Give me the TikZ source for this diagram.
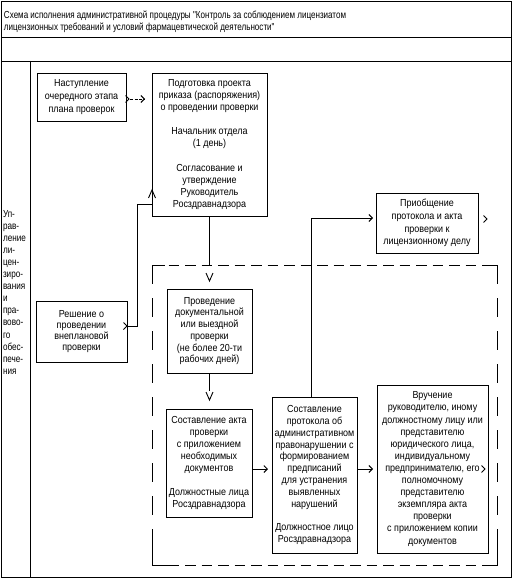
\documentclass[tikz,border=0pt]{standalone}
\usepackage{fontspec}
\setmainfont{Liberation Sans}[FakeStretch=0.88]
\newfontfamily\ttlfont{Liberation Sans}[FakeStretch=0.79]
\newfontfamily\lanefont{Liberation Sans}[FakeStretch=0.8]
\usetikzlibrary{arrows.meta,calc}
\begin{document}
\begin{tikzpicture}[x=1pt,y=-1pt,line width=0.9pt,
  fs/.style={font=\fontsize{10.2}{#1}\selectfont},
  every node/.style={inner sep=0pt, outer sep=0pt},
  lbox/.style={draw, align=center, anchor=north west, fs=#1},
  lbl/.style={align=left, anchor=north west},
  hd/.style={dash pattern=on 10.5pt off 6pt},
  vd/.style={dash pattern=on 19pt off 14pt},
  dd/.style={dash pattern=on 3pt off 1.5pt},
  arr/.style={-{Straight Barb[length=3.5pt,width=7pt]}},
  rch/.pic={\draw (-3.5,-3.5) -- (0,0) -- (-3.5,3.5);},
  dch/.pic={\draw (-3.5,-8) -- (0,0) -- (3.5,-8);},
  uch/.pic={\draw (-3.5,8) -- (0,0) -- (3.5,8);},
]
\useasboundingbox (0,0) rectangle (514,580);
% frame
\draw (1,1) rectangle (511,577);
\draw (1,37) -- (511,37);
\draw (1,61) -- (511,61);
\draw (30,61) -- (30,577);

\node[lbl, font=\ttlfont\fontsize{10.2}{12}\selectfont] (title) at (4,11) {Схема исполнения административной процедуры "Контроль за соблюдением лицензиатом\\лицензионных требований и условий фармацевтической деятельности"};
\node[lbl, font=\lanefont\fontsize{10.2}{12.1}\selectfont] (lane) at (3,210) {Уп-\\рав-\\ление\\ли-\\цен-\\зиро-\\вания\\и\\пра-\\вово-\\го\\обес-\\пече-\\ния};

\node[lbox=13, minimum width=89pt, minimum height=48pt] (b1) at (37,73) {Наступление\\очередного этапа\\плана проверок};
\node[lbox=12.1, minimum width=115pt, minimum height=143pt] (b2) at (152,73) {Подготовка проекта\\приказа (распоряжения)\\о проведении проверки\\[12.1pt]Начальник отдела\\(1 день)\\[12.1pt]Согласование и\\утверждение\\Руководитель\\Росздравнадзора};
\node[lbox=12.7, minimum width=102pt, minimum height=60pt] (b3) at (376,193) {Приобщение\\протокола и акта\\проверки к\\лицензионному делу};
\node[lbox=11.1, minimum width=91pt, minimum height=61pt] (b4) at (36,301) {Решение о\\проведении\\внеплановой\\проверки};
\node[lbox=11.7, minimum width=85pt, minimum height=84pt] (b5) at (167,289) {Проведение\\документальной\\или выездной\\проверки\\(не более 20-ти\\рабочих дней)};
\node[lbox=12, minimum width=86pt, minimum height=108pt] (b6) at (166,409) {Составление акта\\проверки\\с приложением\\необходимых\\документов\\[12pt]Должностные лица\\Росздравнадзора};
\node[lbox=11.8, minimum width=85pt, minimum height=156pt] (b7) at (272,397) {Составление\\протокола об\\административном\\правонарушении с\\формированием\\предписаний\\для устранения\\выявленных\\нарушений\\[11.8pt]Должностное лицо\\Росздравнадзора};
\node[lbox=12.1, minimum width=111pt, minimum height=168pt] (b8) at (377,385) {Вручение\\руководителю, иному\\должностному лицу или\\представителю\\юридического лица,\\индивидуальному\\предпринимателю, его\\полномочному\\представителю\\экземпляра акта\\проверки\\с приложением копии\\документов};

% dashed frame
\coordinate (ftl) at (152,265);
\coordinate (fbr) at (497,565);
\coordinate (ftr) at (ftl -| fbr);
\coordinate (fbl) at (ftl |- fbr);
\draw[hd] (ftl) -- (ftr);
\draw[hd] (fbl) -- (fbr);
\draw[vd] (ftl) -- (fbl);
\draw[vd] (ftr) -- (fbr);
\draw ($(ftl)+(0,17)$) -- (ftl) -- ++(13,0);
\draw ($(ftr)+(-11,0)$) -- (ftr) -- ++(0,18);
\draw ($(fbl)+(0,-25)$) -- (fbl) -- ++(20,0);
\draw ($(fbr)+(0,-18)$) -- (fbr) -- ++(-8,0);

% connectors
\pic at ($(b1.east)+(3,2)$) {rch};
\draw[dd,arr] ($(b1.east)+(4,2)$) -- ($(b1.east -| b2.west)+(-7,2)$);

\coordinate (r4) at ($(b4.east)+(0,-5.5)$);
\pic at (r4) {rch};
\draw (r4) -- ++(10,0) |- ($(b2.south west)+(0,-12)$);
\pic at ($(b2.south west)+(0,-26)$) {uch};

\draw (b2.south) -- (b2.south |- ftl);
\pic at ($(b5.north)+(0,-8)$) {dch};

\draw (b5.south) -- ($(b5.south |- b6.north)+(0,-18)$);
\pic at ($(b5.south |- b6.north)+(0,-9)$) {dch};

\draw[arr] ($(b6.east)+(0,6)$) -- ($(b6.east -| b7.west)+(-4,6)$);
\draw[arr] (b8.west -| b7.east) -- ($(b8.west)+(-4,0)$);
\draw[arr] ($(b7.north)+(-3,0)$) |- ($(b3.west)+(-3,-5)$);

\pic at ($(b3.east)+(9,-4)$) {rch};
\pic at ($(b8.east)+(-3,0)$) {rch};
\end{tikzpicture}
\end{document}
